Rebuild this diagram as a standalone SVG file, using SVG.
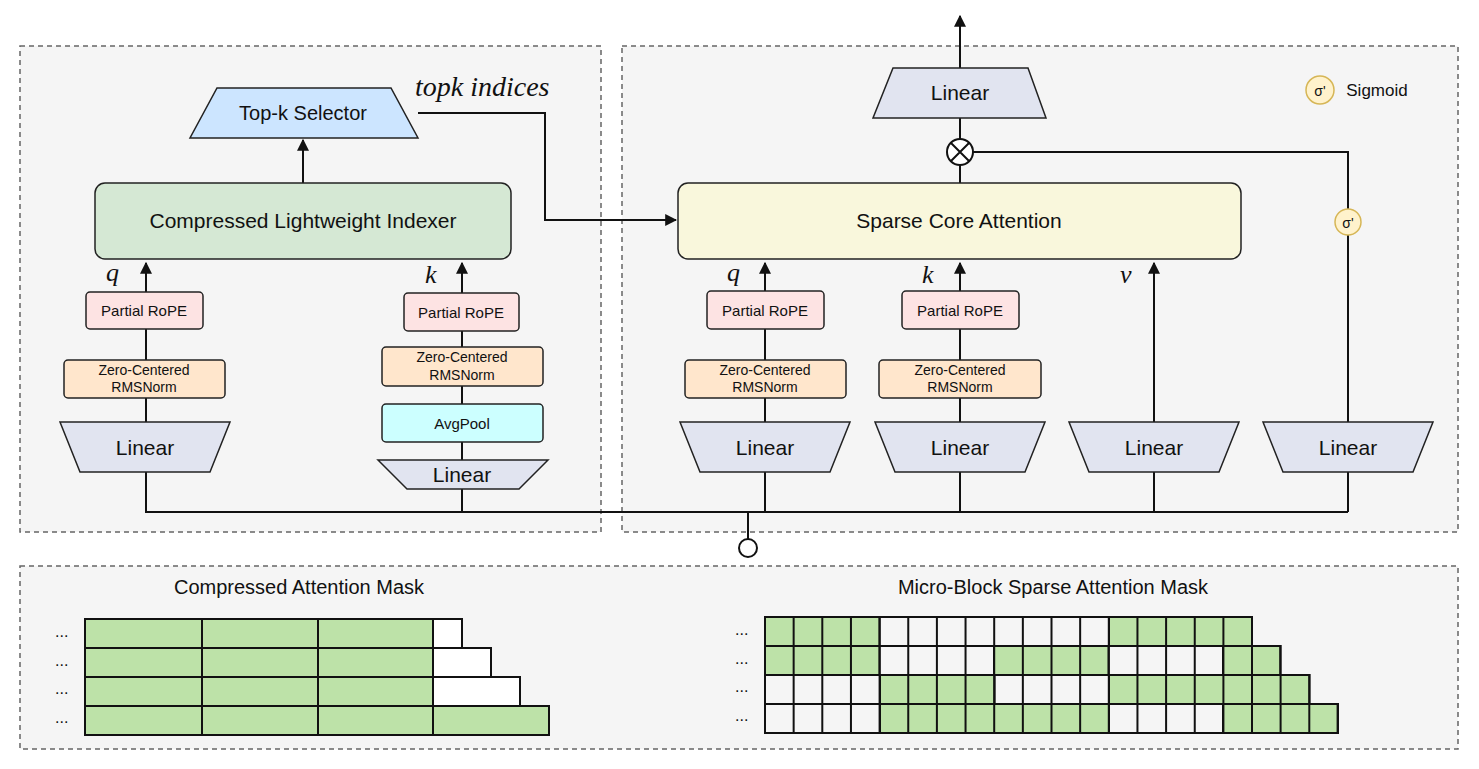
<svg xmlns="http://www.w3.org/2000/svg" width="1479" height="769" viewBox="0 0 1479 769">
<style>
.panel{fill:#f5f5f5;stroke:#666;stroke-width:1.5;stroke-dasharray:5,4}
.box{stroke:#222;stroke-width:1.5}
.t{font-family:"Liberation Sans",Arial,sans-serif;fill:#111;text-anchor:middle}
.it{font-family:"Liberation Serif","Times New Roman",serif;font-style:italic;fill:#111}
.ln{fill:none;stroke:#111;stroke-width:2}
.rope{fill:#fde3e3;stroke:#222;stroke-width:1.5}
.zc{fill:#ffe6cc;stroke:#222;stroke-width:1.5}
.lin{fill:#e1e4f0;stroke:#222;stroke-width:1.5}
.g{fill:#bde2a8;stroke:#111;stroke-width:2}
.w{fill:#fff;stroke:#111;stroke-width:2}
</style>
<defs><marker id="a" viewBox="0 0 10 10" refX="9" refY="5" markerWidth="6" markerHeight="6" orient="auto"><path d="M0,0L10,5L0,10z" fill="#111"/></marker></defs>
<rect class="panel" x="20" y="46" width="581" height="486"/>
<rect class="panel" x="622" y="46" width="836" height="486"/>
<rect class="panel" x="20" y="566" width="1438" height="183"/>
<g id="connectors">
<path class="ln" d="M146,472V512H1348"/>
<path class="ln" d="M462,489V512M765,472V512M960,472V512M1154,472V512M1348,472V512"/>
<path class="ln" d="M748,512V539"/>
<path class="ln" d="M146,422V398M146,360V329M146,292V263" marker-end="url(#a)"/>
<path class="ln" d="M462,460V442M462,404V386M462,347V331M462,293V263" marker-end="url(#a)"/>
<path class="ln" d="M765,422V398M765,360V329M765,291V263" marker-end="url(#a)"/>
<path class="ln" d="M960,422V398M960,360V329M960,291V263" marker-end="url(#a)"/>
<path class="ln" d="M1154,422V263" marker-end="url(#a)"/>
<path class="ln" d="M1348,422V235M1348,209V152H973"/>
<path class="ln" d="M303,183V140" marker-end="url(#a)"/>
<path class="ln" d="M418,113H545V220H676" marker-end="url(#a)"/>
<path class="ln" d="M960,183V165M960,139V118"/>
<path class="ln" d="M960,68V16" marker-end="url(#a)"/>
</g>
<g id="topk"><path class="box" fill="#cce5ff" d="M217,88H391L418,138H190Z"/><text class="t" x="303" y="120" font-size="20">Top-k Selector</text></g>
<text class="it" x="415" y="96" font-size="28">topk indices</text>
<g id="indexer"><rect class="box" fill="#d5e8d4" x="95" y="183" width="416" height="76" rx="10"/><text class="t" x="303" y="228" font-size="21">Compressed Lightweight Indexer</text></g>
<text class="it" x="106" y="281" font-size="26">q</text>
<text class="it" x="425" y="283" font-size="26">k</text>
<g id="ropeL"><rect class="rope" x="86" y="292" width="117" height="37" rx="4"/><text class="t" x="144" y="316" font-size="15">Partial RoPE</text></g>
<g id="zcL"><rect class="zc" x="64" y="360" width="161" height="38" rx="4"/><text class="t" x="144" y="375" font-size="14">Zero-Centered</text><text class="t" x="144" y="392" font-size="14">RMSNorm</text></g>
<g id="linL"><path class="lin" d="M60,422H230L210,472H80Z"/><text class="t" x="145" y="455" font-size="21">Linear</text></g>
<g id="ropeK"><rect class="rope" x="404" y="293" width="115" height="38" rx="4"/><text class="t" x="461" y="318" font-size="15">Partial RoPE</text></g>
<g id="zcK"><rect class="zc" x="382" y="347" width="161" height="39" rx="4"/><text class="t" x="462" y="362" font-size="14">Zero-Centered</text><text class="t" x="462" y="380" font-size="14">RMSNorm</text></g>
<g id="avg"><rect class="box" fill="#ccffff" x="382" y="404" width="161" height="38" rx="4"/><text class="t" x="462" y="429" font-size="15">AvgPool</text></g>
<g id="linK"><path class="lin" d="M378,460H548L519,489H407Z"/><text class="t" x="462" y="482" font-size="21">Linear</text></g>
<g id="sca"><rect class="box" fill="#f9f7dc" x="678" y="183" width="563" height="76" rx="10"/><text class="t" x="959" y="228" font-size="21">Sparse Core Attention</text></g>
<text class="it" x="727" y="281" font-size="26">q</text>
<text class="it" x="922" y="283" font-size="26">k</text>
<text class="it" x="1120" y="283" font-size="26">v</text>
<g id="ropeQ2"><rect class="rope" x="707" y="291" width="117" height="38" rx="4"/><text class="t" x="765" y="316" font-size="15">Partial RoPE</text></g>
<g id="zcQ2"><rect class="zc" x="685" y="360" width="161" height="38" rx="4"/><text class="t" x="765" y="375" font-size="14">Zero-Centered</text><text class="t" x="765" y="392" font-size="14">RMSNorm</text></g>
<g id="linQ2"><path class="lin" d="M680,422H850L830,472H700Z"/><text class="t" x="765" y="455" font-size="21">Linear</text></g>
<g id="ropeK2"><rect class="rope" x="902" y="291" width="117" height="38" rx="4"/><text class="t" x="960" y="316" font-size="15">Partial RoPE</text></g>
<g id="zcK2"><rect class="zc" x="879" y="360" width="162" height="38" rx="4"/><text class="t" x="960" y="375" font-size="14">Zero-Centered</text><text class="t" x="960" y="392" font-size="14">RMSNorm</text></g>
<g id="linK2"><path class="lin" d="M875,422H1045L1025,472H895Z"/><text class="t" x="960" y="455" font-size="21">Linear</text></g>
<g id="linV"><path class="lin" d="M1069,422H1239L1219,472H1089Z"/><text class="t" x="1154" y="455" font-size="21">Linear</text></g>
<g id="linG"><path class="lin" d="M1263,422H1433L1413,472H1283Z"/><text class="t" x="1348" y="455" font-size="21">Linear</text></g>
<g id="sig"><circle cx="1348" cy="222" r="13" fill="#fff2cc" stroke="#d6b656" stroke-width="1.5"/><text class="t" x="1348" y="228" font-size="14">σ'</text></g>
<g id="mul"><circle cx="960" cy="152" r="13" fill="#fff" stroke="#111" stroke-width="2"/><path class="ln" d="M951,143L969,161M969,143L951,161"/></g>
<g id="linO"><path class="lin" d="M893,68H1028L1046,118H873Z"/><text class="t" x="960" y="100" font-size="21">Linear</text></g>
<g id="legend"><circle cx="1320" cy="90" r="14" fill="#fff2cc" stroke="#d6b656" stroke-width="1.5"/><text class="t" x="1320" y="96" font-size="14">σ'</text><text class="t" x="1377" y="96" font-size="17">Sigmoid</text></g>
<g id="input"><circle cx="748" cy="548" r="9" fill="#fff" stroke="#111" stroke-width="2"/></g>
<g id="cmask">
<text class="t" x="299" y="594" font-size="20">Compressed Attention Mask</text>
<g font-family="Liberation Sans,sans-serif" font-size="16" fill="#111"><text x="55" y="637">...</text><text x="55" y="666">...</text><text x="55" y="694">...</text><text x="55" y="723">...</text></g>
<rect class="g" x="85" y="619" width="117" height="29"/><rect class="g" x="202" y="619" width="116" height="29"/><rect class="g" x="318" y="619" width="115" height="29"/><rect class="w" x="433" y="619" width="29" height="29"/>
<rect class="g" x="85" y="648" width="117" height="29"/><rect class="g" x="202" y="648" width="116" height="29"/><rect class="g" x="318" y="648" width="115" height="29"/><rect class="w" x="433" y="648" width="58" height="29"/>
<rect class="g" x="85" y="677" width="117" height="29"/><rect class="g" x="202" y="677" width="116" height="29"/><rect class="g" x="318" y="677" width="115" height="29"/><rect class="w" x="433" y="677" width="87" height="29"/>
<rect class="g" x="85" y="706" width="117" height="29"/><rect class="g" x="202" y="706" width="116" height="29"/><rect class="g" x="318" y="706" width="115" height="29"/><rect class="g" x="433" y="706" width="116" height="29"/>
</g>
<g id="mmask">
<text class="t" x="1053" y="594" font-size="20">Micro-Block Sparse Attention Mask</text>
<g font-family="Liberation Sans,sans-serif" font-size="16" fill="#111"><text x="735" y="635">...</text><text x="735" y="664">...</text><text x="735" y="692">...</text><text x="735" y="721">...</text></g>
<g class="g">
<rect x="765" y="617" width="114.6" height="29"/><rect x="1109" y="617" width="143" height="29"/>
<rect x="765" y="646" width="114.6" height="29"/><rect x="994" y="646" width="114.6" height="29"/><rect x="1223" y="646" width="57.3" height="29"/>
<rect x="880" y="675" width="114.6" height="29"/><rect x="1109" y="675" width="200.5" height="29"/>
<rect x="880" y="704" width="229" height="29"/><rect x="1223" y="704" width="114.6" height="29"/>
</g>
<path fill="none" stroke="#111" stroke-width="2" d="M765,617H1252V646H1280.6V675H1309.3V704H1338V733H765Z M765,646H1280.6M765,675H1309.3M765,704H1338
M793.65,617V733M822.3,617V733M850.95,617V733M879.6,617V733M908.25,617V733M936.9,617V733M965.55,617V733M994.2,617V733M1022.85,617V733M1051.5,617V733M1080.15,617V733M1108.8,617V733M1137.45,617V733M1166.1,617V733M1194.75,617V733M1223.4,617V733M1252,646V733M1280.6,675V733M1309.3,704V733"/>
</g>
</svg>
